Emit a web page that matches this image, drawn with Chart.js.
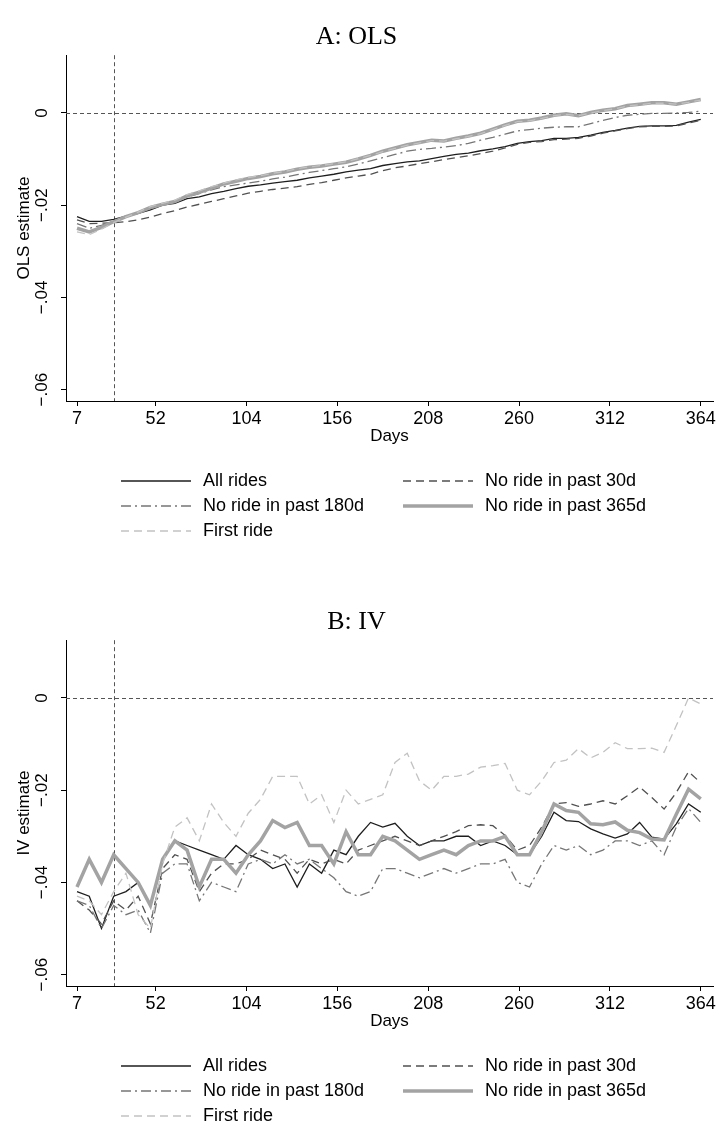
<!DOCTYPE html>
<html>
<head>
<meta charset="utf-8">
<title>OLS and IV estimates by days</title>
<script src="https://cdn.jsdelivr.net/npm/chart.js@4.4.1/dist/chart.umd.min.js"></script>
<style>
  html, body { margin: 0; padding: 0; background: #fff; overflow: hidden; }
  #wrap { position: relative; width: 719px; height: 1128px; overflow: hidden; }
  canvas { position: absolute; left: 0; }
  #chartA { top: 0; }
  #chartB { top: 585px; }
</style>
</head>
<body>
<div id="wrap">
  <canvas id="chartA" width="719" height="560"></canvas>
  <canvas id="chartB" width="719" height="560"></canvas>
</div>
<script>
// x values (days since the event)
var days = [7, 14, 21, 28, 35, 42, 49, 56, 63, 70, 77, 84, 91, 98, 105, 112, 119, 126, 133, 140,
  147, 154, 161, 168, 175, 182, 189, 196, 203, 210, 217, 224, 231, 238, 245, 252, 259, 266, 273, 280,
  287, 294, 301, 308, 315, 322, 329, 336, 343, 350, 357, 364];

var seriesNames = ['All rides', 'No ride in past 30d', 'No ride in past 180d', 'No ride in past 365d', 'First ride'];

// panel A: OLS
var olsAll = [-0.0225, -0.0235, -0.0235, -0.0231, -0.0224, -0.0218, -0.0210, -0.0200, -0.0196, -0.0186,
  -0.0182, -0.0175, -0.0170, -0.0164, -0.0159, -0.0156, -0.0152, -0.0149, -0.0146, -0.0141,
  -0.0137, -0.0133, -0.0128, -0.0124, -0.0121, -0.0114, -0.0110, -0.0106, -0.0104, -0.0099,
  -0.0094, -0.0090, -0.0087, -0.0082, -0.0078, -0.0073, -0.0066, -0.0062, -0.0060, -0.0055,
  -0.0055, -0.0053, -0.0048, -0.0042, -0.0038, -0.0033, -0.0029, -0.0028, -0.0028, -0.0027,
  -0.0020, -0.0014];
var olsNo30 = [-0.0232, -0.0240, -0.0239, -0.0238, -0.0236, -0.0232, -0.0226, -0.0218, -0.0212, -0.0204,
  -0.0198, -0.0192, -0.0186, -0.0180, -0.0174, -0.0170, -0.0166, -0.0163, -0.0160, -0.0155,
  -0.0151, -0.0146, -0.0141, -0.0137, -0.0133, -0.0125, -0.0119, -0.0115, -0.0110, -0.0106,
  -0.0101, -0.0097, -0.0093, -0.0088, -0.0083, -0.0076, -0.0068, -0.0064, -0.0062, -0.0058,
  -0.0057, -0.0055, -0.0050, -0.0044, -0.0039, -0.0034, -0.0030, -0.0029, -0.0029, -0.0028,
  -0.0022, -0.0016];
var olsNo180 = [-0.0240, -0.0250, -0.0244, -0.0234, -0.0226, -0.0218, -0.0208, -0.0199, -0.0192, -0.0182,
  -0.0175, -0.0167, -0.0160, -0.0156, -0.0152, -0.0148, -0.0143, -0.0139, -0.0134, -0.0129,
  -0.0125, -0.0121, -0.0117, -0.0111, -0.0104, -0.0097, -0.0090, -0.0083, -0.0079, -0.0077,
  -0.0074, -0.0071, -0.0066, -0.0059, -0.0053, -0.0046, -0.0039, -0.0036, -0.0033, -0.0031,
  -0.0030, -0.0030, -0.0023, -0.0016, -0.0010, -0.0005, -0.0003, -0.0001, -0.0001, 0.0000,
  0.0001, 0.0004];
var olsNo365 = [-0.0250, -0.0258, -0.0248, -0.0236, -0.0225, -0.0216, -0.0205, -0.0198, -0.0192, -0.0180,
  -0.0172, -0.0163, -0.0154, -0.0148, -0.0142, -0.0138, -0.0132, -0.0128, -0.0122, -0.0118,
  -0.0115, -0.0111, -0.0107, -0.0100, -0.0092, -0.0083, -0.0076, -0.0069, -0.0064, -0.0059,
  -0.0061, -0.0055, -0.0050, -0.0044, -0.0035, -0.0026, -0.0018, -0.0016, -0.0011, -0.0005,
  -0.0002, -0.0006, 0.0001, 0.0006, 0.0009, 0.0016, 0.0019, 0.0022, 0.0022, 0.0019,
  0.0024, 0.0029];
var olsFirst = [-0.0258, -0.0264, -0.0252, -0.0238, -0.0226, -0.0215, -0.0203, -0.0196, -0.0189, -0.0177,
  -0.0169, -0.0160, -0.0152, -0.0145, -0.0140, -0.0136, -0.0131, -0.0127, -0.0121, -0.0117,
  -0.0114, -0.0110, -0.0106, -0.0099, -0.0092, -0.0084, -0.0077, -0.0070, -0.0065, -0.0060,
  -0.0061, -0.0056, -0.0051, -0.0045, -0.0036, -0.0027, -0.0019, -0.0017, -0.0012, -0.0006,
  -0.0003, -0.0006, 0.0000, 0.0005, 0.0009, 0.0015, 0.0018, 0.0021, 0.0021, 0.0019,
  0.0023, 0.0028];

// panel B: IV
var ivAll = [-0.042, -0.043, -0.050, -0.043, -0.042, -0.040, -0.045, -0.035, -0.031, -0.032,
  -0.033, -0.034, -0.035, -0.032, -0.034, -0.035, -0.037, -0.036, -0.041, -0.036,
  -0.038, -0.033, -0.034, -0.030, -0.027, -0.028, -0.0272, -0.030, -0.032, -0.031,
  -0.031, -0.030, -0.030, -0.032, -0.031, -0.032, -0.034, -0.034, -0.030, -0.0248,
  -0.0266, -0.0268, -0.0284, -0.0295, -0.0304, -0.0295, -0.0270, -0.0302, -0.0306, -0.0273,
  -0.0230, -0.0248];
var ivNo30 = [-0.044, -0.046, -0.049, -0.044, -0.046, -0.043, -0.049, -0.037, -0.034, -0.035,
  -0.042, -0.038, -0.036, -0.036, -0.035, -0.033, -0.034, -0.035, -0.038, -0.035,
  -0.036, -0.035, -0.036, -0.033, -0.032, -0.031, -0.030, -0.031, -0.032, -0.031,
  -0.030, -0.029, -0.0277, -0.0275, -0.0277, -0.0298, -0.033, -0.032, -0.028, -0.0230,
  -0.0227, -0.0235, -0.0230, -0.0223, -0.0230, -0.0212, -0.0193, -0.0216, -0.0241, -0.0205,
  -0.0160, -0.0184];
var ivNo180 = [-0.044, -0.045, -0.050, -0.045, -0.047, -0.046, -0.051, -0.038, -0.036, -0.036,
  -0.044, -0.040, -0.041, -0.042, -0.036, -0.035, -0.036, -0.034, -0.036, -0.035,
  -0.037, -0.039, -0.042, -0.043, -0.042, -0.037, -0.037, -0.038, -0.039, -0.038,
  -0.037, -0.038, -0.037, -0.036, -0.036, -0.035, -0.040, -0.041, -0.036, -0.032,
  -0.033, -0.032, -0.034, -0.033, -0.031, -0.031, -0.032, -0.031, -0.034, -0.028,
  -0.024, -0.027];
var ivNo365 = [-0.041, -0.035, -0.040, -0.034, -0.037, -0.040, -0.045, -0.035, -0.031, -0.033,
  -0.041, -0.035, -0.035, -0.038, -0.034, -0.031, -0.0266, -0.0281, -0.0270, -0.032,
  -0.032, -0.036, -0.029, -0.034, -0.034, -0.030, -0.031, -0.033, -0.035, -0.034,
  -0.033, -0.034, -0.032, -0.031, -0.031, -0.030, -0.034, -0.034, -0.029, -0.0230,
  -0.0244, -0.0248, -0.0273, -0.0275, -0.0269, -0.0287, -0.0292, -0.0306, -0.0308, -0.0252,
  -0.0198, -0.0219];
var ivFirst = [-0.043, -0.044, -0.047, -0.042, -0.038, -0.047, -0.050, -0.036, -0.028, -0.026,
  -0.031, -0.023, -0.027, -0.030, -0.025, -0.022, -0.017, -0.017, -0.017, -0.023,
  -0.021, -0.027, -0.020, -0.023, -0.022, -0.021, -0.014, -0.012, -0.018, -0.020,
  -0.017, -0.017, -0.0165, -0.015, -0.0147, -0.0142, -0.020, -0.021, -0.018, -0.014,
  -0.0135, -0.011, -0.013, -0.0118, -0.0097, -0.011, -0.011, -0.0109, -0.0118, -0.006,
  0.0000, -0.0013];

var xTicks = [7, 52, 104, 156, 208, 260, 312, 364];
var yTicks = [0, -0.02, -0.04, -0.06];
var yTickLabels = ['0', '\u2212.02', '\u2212.04', '\u2212.06'];
var xLine = 28;
var yLine = 0;

Chart.defaults.font.family = "'Liberation Sans', Arial, sans-serif";
Chart.defaults.font.size = 17;
Chart.defaults.color = '#000';

// monochrome line styles, one per series
var lineStyles = [
  { color: '#1e1e1e', width: 1.3, dash: [] },
  { color: '#505050', width: 1.3, dash: [8, 5] },
  { color: '#767676', width: 1.3, dash: [10, 4, 2, 4] },
  { color: '#a3a3a3', width: 3.5, dash: [] },
  { color: '#c2c2c2', width: 1.3, dash: [8, 5] }
];

// dashed reference lines at x = 28 and y = 0
var refLines = {
  id: 'refLines',
  beforeDatasetsDraw: function (chart) {
    var a = chart.chartArea, ctx = chart.ctx;
    var px = Math.round(chart.scales.x.getPixelForValue(xLine)) + 0.5;
    var py = Math.round(chart.scales.y.getPixelForValue(yLine)) + 0.5;
    ctx.save();
    ctx.strokeStyle = '#555';
    ctx.lineWidth = 1;
    ctx.setLineDash([4, 3]);
    ctx.beginPath();
    ctx.moveTo(a.left, py);
    ctx.lineTo(a.right, py);
    ctx.moveTo(px, a.top);
    ctx.lineTo(px, a.bottom);
    ctx.stroke();
    ctx.restore();
  }
};

// two-column legend below the axis, like Stata's
var stataLegend = {
  id: 'stataLegend',
  afterDraw: function (chart) {
    var ctx = chart.ctx, top = chart.chartArea.bottom + 80;
    ctx.save();
    ctx.font = "18px 'Liberation Sans', Arial, sans-serif";
    ctx.textBaseline = 'middle';
    ctx.fillStyle = '#000';
    chart.data.datasets.forEach(function (ds, i) {
      var x = i % 2 ? 403 : 121;
      var y = top + Math.floor(i / 2) * 25;
      ctx.strokeStyle = ds.borderColor;
      ctx.lineWidth = ds.borderWidth;
      ctx.setLineDash(ds.borderDash);
      ctx.beginPath();
      ctx.moveTo(x, y);
      ctx.lineTo(x + 70, y);
      ctx.stroke();
      ctx.fillText(ds.label, x + 82, y);
    });
    ctx.restore();
  }
};

function makeChart(id, title, yTitle, values) {
  return new Chart(document.getElementById(id), {
    type: 'line',
    data: {
      datasets: seriesNames.map(function (name, i) {
        return {
          label: name,
          data: values[i].map(function (v, j) { return { x: days[j], y: v }; }),
          borderColor: lineStyles[i].color,
          borderWidth: lineStyles[i].width,
          borderDash: lineStyles[i].dash,
          pointRadius: 0,
          tension: 0,
          fill: false,
          order: seriesNames.length - i
        };
      })
    },
    options: {
      responsive: false,
      animation: false,
      layout: { padding: { left: 0, right: 6, top: 0, bottom: 110 } },
      plugins: {
        legend: { display: false },
        tooltip: { enabled: false },
        title: {
          display: true,
          text: title,
          color: '#000',
          font: { family: "'Liberation Serif', 'Times New Roman', serif", size: 26, weight: 'normal' },
          padding: { top: 22, bottom: 2 }
        }
      },
      scales: {
        x: {
          type: 'linear',
          min: 0.7,
          max: 371,
          afterBuildTicks: function (s) { s.ticks = xTicks.map(function (v) { return { value: v }; }); },
          afterFit: function (s) { s.height = 49; },
          grid: { drawOnChartArea: false, drawTicks: true, tickLength: 5, color: '#000' },
          border: { display: true, color: '#000', width: 1 },
          ticks: { maxRotation: 0, autoSkip: false, padding: 2, color: '#000', font: { size: 18 } },
          title: { display: true, text: 'Days', color: '#000', padding: { top: 0, bottom: 3 } }
        },
        y: {
          type: 'linear',
          min: -0.06247,
          max: 0.01252,
          afterBuildTicks: function (s) { s.ticks = yTicks.map(function (v) { return { value: v }; }); },
          afterFit: function (s) { s.width = 66; },
          grid: { drawOnChartArea: false, drawTicks: true, tickLength: 5, color: '#000' },
          border: { display: true, color: '#000', width: 1 },
          ticks: {
            minRotation: 90, maxRotation: 90, crossAlign: 'center', padding: 2, autoSkip: false, color: '#000',
            callback: function (v) { return yTickLabels[yTicks.indexOf(v)]; }
          },
          title: { display: true, text: yTitle, color: '#000', padding: { top: 14, bottom: 0 } }
        }
      }
    },
    plugins: [refLines, stataLegend]
  });
}

makeChart('chartA', 'A: OLS', 'OLS estimate', [olsAll, olsNo30, olsNo180, olsNo365, olsFirst]);
makeChart('chartB', 'B: IV', 'IV estimate', [ivAll, ivNo30, ivNo180, ivNo365, ivFirst]);
</script>
</body>
</html>
